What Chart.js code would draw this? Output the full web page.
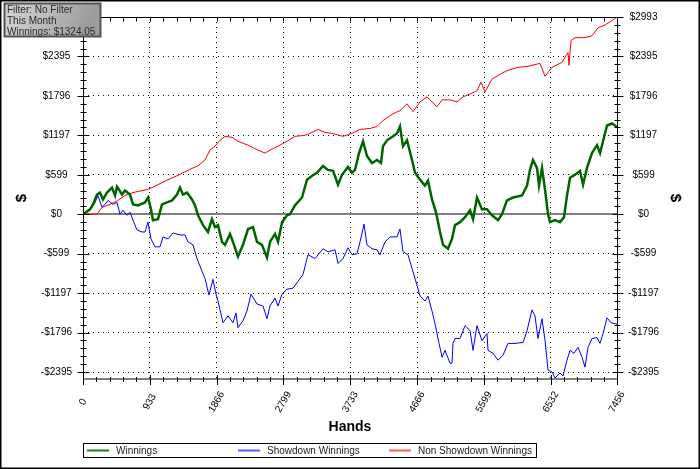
<!DOCTYPE html>
<html lang="en">
<head>
<meta charset="UTF-8">
<title>Winnings graph</title>
<script src="https://cdn.jsdelivr.net/npm/chart.js"></script>
<style>
  body { margin: 0; background: #fff; }
  canvas { display: block; }
</style>
</head>
<body>
<canvas id="winChart" width="700" height="469"></canvas>
<script>
// cumulative $ per hand
const winHands = [0, 98, 140, 195, 237, 279, 335, 405, 447, 475,
  545, 586, 656, 698, 768, 866, 908, 949, 977, 1047,
  1103, 1173, 1243, 1313, 1354, 1396, 1452, 1522, 1564, 1606,
  1676, 1745, 1801, 1843, 1885, 1941, 1983, 2053, 2094, 2164,
  2234, 2304, 2374, 2430, 2499, 2569, 2611, 2681, 2723, 2779,
  2848, 2890, 2960, 3058, 3128, 3198, 3267, 3351, 3421, 3491,
  3561, 3616, 3700, 3756, 3798, 3854, 3910, 3965, 4035, 4105,
  4161, 4189, 4245, 4329, 4384, 4426, 4468, 4524, 4594, 4636,
  4706, 4775, 4817, 4873, 4929, 4985, 5027, 5096, 5152, 5194,
  5264, 5334, 5404, 5446, 5501, 5571, 5641, 5711, 5795, 5850,
  5920, 6004, 6130, 6200, 6241, 6283, 6339, 6367, 6409, 6451,
  6493, 6521, 6591, 6660, 6716, 6758, 6800, 6870, 6940, 6982,
  7037, 7107, 7177, 7219, 7261, 7317, 7386, 7456];
const winVals = [0, 75, 150, 299, 329, 224, 329, 404, 284, 419,
  299, 359, 299, 150, 135, 180, 254, 75, -90, -75,
  150, 180, 210, 299, 404, 299, 329, 224, 135, -15,
  -165, -269, -75, -195, -165, -419, -464, -299, -419, -643,
  -464, -224, -195, -419, -464, -658, -419, -299, -419, -120,
  -15, 0, 135, 254, 524, 584, 629, 733, 673, 658,
  449, 599, 718, 629, 673, 928, 1107, 883, 778, 823,
  778, 1033, 1122, 1182, 1227, 1332, 1033, 1122, 823, 629,
  524, 434, 509, 224, 30, -269, -464, -524, -374, -165,
  -120, -45, 60, -75, 254, 75, 75, -15, -90, 0,
  210, 254, 284, 434, 673, 823, 703, 434, 703, 374,
  0, -120, -90, -120, -45, 284, 554, 599, 658, 449,
  703, 928, 1048, 928, 1107, 1347, 1377, 1324];

const sdHands = [0, 98, 168, 209, 265, 307, 349, 419, 475, 517,
  559, 614, 656, 698, 754, 824, 866, 908, 949, 1005,
  1075, 1117, 1187, 1257, 1354, 1424, 1466, 1536, 1592, 1662,
  1703, 1759, 1815, 1857, 1885, 1955, 2025, 2094, 2136, 2164,
  2234, 2290, 2346, 2430, 2513, 2569, 2611, 2681, 2723, 2779,
  2848, 2932, 3002, 3072, 3128, 3142, 3239, 3351, 3421, 3519,
  3561, 3630, 3700, 3756, 3826, 3868, 3924, 3965, 4035, 4105,
  4147, 4217, 4287, 4384, 4426, 4468, 4538, 4594, 4636, 4706,
  4775, 4817, 4873, 4915, 4971, 5013, 5055, 5124, 5152, 5166,
  5194, 5264, 5334, 5404, 5446, 5501, 5571, 5641, 5655, 5725,
  5795, 5864, 5934, 6032, 6144, 6200, 6269, 6311, 6353, 6409,
  6451, 6493, 6549, 6591, 6660, 6702, 6758, 6800, 6856, 6912,
  6968, 7009, 7051, 7107, 7177, 7219, 7261, 7317, 7372, 7456];
const sdVals = [0, 60, 180, 284, 105, 150, 210, 150, 180, 0,
  60, -15, 30, -90, -239, -269, -269, -120, -374, -494,
  -494, -344, -374, -284, -314, -314, -419, -464, -673, -868,
  -973, -1227, -988, -1212, -1317, -1646, -1541, -1646, -1497, -1721,
  -1616, -1467, -1212, -1362, -1392, -1586, -1392, -1272, -1392, -1212,
  -1137, -1122, -1018, -913, -673, -614, -673, -524, -569, -539,
  -748, -673, -509, -614, -599, -419, -150, -464, -524, -539,
  -614, -419, -344, -344, -224, -569, -614, -823, -973, -1242,
  -1317, -1242, -1467, -1661, -1960, -2170, -2065, -2260, -2260, -1960,
  -1886, -1886, -1691, -1766, -2065, -1691, -1916, -1811, -2065, -2110,
  -2215, -2140, -1960, -1960, -1945, -1766, -1452, -1541, -1886, -1586,
  -1916, -2364, -2394, -2484, -2409, -2454, -2215, -2065, -2110, -2020,
  -2170, -2320, -2020, -1886, -1871, -1960, -1811, -1571, -1646, -1669];

const nsdHands = [0, 195, 265, 377, 489, 586, 698, 894, 963, 1103,
  1187, 1313, 1396, 1536, 1606, 1703, 1773, 1843, 1913, 1983,
  2080, 2164, 2304, 2444, 2541, 2611, 2723, 2848, 2960, 3100,
  3198, 3281, 3379, 3477, 3630, 3756, 3868, 4007, 4105, 4189,
  4329, 4426, 4524, 4608, 4706, 4803, 4873, 4943, 5013, 5124,
  5222, 5306, 5404, 5501, 5557, 5613, 5711, 5850, 5934, 6074,
  6214, 6381, 6451, 6549, 6688, 6772, 6786, 6814, 6870, 7009,
  7107, 7191, 7289, 7400, 7456];
const nsdVals = [0, 0, 105, 150, 210, 284, 329, 374, 404, 479,
  524, 584, 629, 703, 733, 823, 973, 1033, 1122, 1182,
  1167, 1107, 1048, 973, 928, 973, 1033, 1107, 1182, 1197,
  1242, 1287, 1242, 1227, 1182, 1227, 1287, 1302, 1332, 1422,
  1526, 1571, 1676, 1556, 1706, 1781, 1706, 1631, 1736, 1736,
  1706, 1781, 1826, 1871, 2005, 1856, 2050, 2140, 2185, 2230,
  2245, 2290, 2095, 2230, 2305, 2454, 2260, 2634, 2679, 2679,
  2709, 2828, 2873, 2948, 2993];

const xTickValues = [0, 933, 1866, 2799, 3733, 4666, 5599, 6532, 7456];
const xTickLabels = ['0', '933', '1866', '2799', '3733', '4666', '5599', '6532', '7456'];
const yTickValues = [-2395, -1796, -1197, -599, 0, 599, 1197, 1796, 2395, 2993];
const yTickLabels = ['-$2395', '-$1796', '-$1197', '-$599', '$0', '$599', '$1197', '$1796', '$2395', '$2993'];
const seriesNames = ['Winnings', 'Showdown Winnings', 'Non Showdown Winnings'];
const seriesColors = ['#006400', '#0000ff', '#ff0000'];
const legendColors = ['#227722', '#5a5aff', '#ff5a5a'];
const infoLines = ['Filter: No Filter', 'This Month', 'Winnings: $1324.05'];

const FONT = 'Arial, "Liberation Sans", sans-serif';
Chart.defaults.font.family = FONT;
Chart.defaults.color = '#000';

function pts(xs, ys) {
  return xs.map((x, i) => ({ x: x, y: ys[i] }));
}

// minor tick positions: 5 steps between each pair of major values
function subTicks(majors) {
  const out = [];
  for (let i = 0; i < majors.length - 1; i++) {
    const a = majors[i], b = majors[i + 1];
    for (let k = 0; k < 5; k++) out.push({ v: a + (b - a) * k / 5, major: k === 0 });
  }
  out.push({ v: majors[majors.length - 1], major: true });
  return out;
}

const framePlugin = {
  id: 'frame',
  beforeDraw(chart) {
    const c = chart.ctx;
    c.save();
    c.fillStyle = '#fff';
    c.fillRect(0, 0, chart.width, chart.height);
    c.restore();
  },
  beforeDatasetsDraw(chart) {
    const c = chart.ctx, a = chart.chartArea;
    const y0 = Math.round(chart.scales.y.getPixelForValue(0));
    c.save();
    c.fillStyle = '#808080';
    c.fillRect(a.left, y0 - 1, a.right - a.left, 2);
    c.restore();
  },
  afterDatasetsDraw(chart) {
    const c = chart.ctx, a = chart.chartArea;
    const xs = chart.scales.x, ys = chart.scales.y;
    const L = Math.round(a.left) + 0.5, R = Math.round(a.right) + 0.5;
    const T = Math.round(a.top) + 0.5, B = Math.round(a.bottom);
    c.save();
    // bottom axis (grey, thick)
    c.fillStyle = '#808080';
    c.fillRect(a.left, B - 1, a.right - a.left + 1, 2);

    c.strokeStyle = '#000';
    c.lineWidth = 1;
    c.beginPath();
    c.moveTo(L, T); c.lineTo(R, T);
    c.moveTo(L, T); c.lineTo(L, B + 4);
    c.moveTo(R, T); c.lineTo(R, B + 4);

    // y ticks crossing both vertical axes
    const yMinor = [];
    for (let k = -20; k <= 25; k++) yMinor.push({ v: k * 598.6 / 5, major: k % 5 === 0 });
    yMinor.forEach(t => {
      const py = Math.round(ys.getPixelForValue(t.v)) + 0.5;
      if (t.major) {
        c.moveTo(L - 6, py); c.lineTo(L + 6, py);
        c.moveTo(R - 5, py); c.lineTo(R + 6, py);
      } else {
        c.moveTo(L - 3, py); c.lineTo(L + 3, py);
        c.moveTo(R - 3, py); c.lineTo(R + 3, py);
      }
    });
    // x ticks top and bottom
    subTicks(xTickValues).forEach(t => {
      const px = Math.round(xs.getPixelForValue(t.v)) + 0.5;
      c.moveTo(px, T); c.lineTo(px, T + 4);
      if (t.major) { c.moveTo(px, B - 4); c.lineTo(px, B + 6); }
      else { c.moveTo(px, B - 2); c.lineTo(px, B + 3); }
    });
    c.stroke();

    // x tick labels, rotated and centred under the tick
    c.font = '10px ' + FONT;
    c.fillStyle = '#000';
    c.textAlign = 'center';
    c.textBaseline = 'middle';
    xTickValues.forEach((v, i) => {
      const px = xs.getPixelForValue(v);
      c.save();
      c.translate(px, 402);
      c.rotate(-Math.PI / 3);
      c.fillText(xTickLabels[i], 0, 0);
      c.restore();
    });
    c.restore();
  },
  afterDraw(chart) {
    const c = chart.ctx;
    c.save();
    // legend box
    c.strokeStyle = '#000';
    c.lineWidth = 1;
    c.strokeRect(83.5, 443.5, 453, 14);
    const itemX = [87, 238, 389];
    c.font = '10px ' + FONT;
    c.textBaseline = 'middle';
    c.textAlign = 'left';
    seriesNames.forEach((name, i) => {
      c.strokeStyle = legendColors[i];
      c.lineWidth = 2;
      c.beginPath();
      c.moveTo(itemX[i], 450.5); c.lineTo(itemX[i] + 22, 450.5);
      c.stroke();
      c.fillStyle = '#222';
      c.fillText(name, itemX[i] + 29, 451);
    });

    // info box top-left
    const g = c.createLinearGradient(4, 3, 80, 40);
    g.addColorStop(0, '#d6d6d6');
    g.addColorStop(0.5, '#bdbdbd');
    g.addColorStop(1, '#9c9c9c');
    c.fillStyle = g;
    c.fillRect(4, 3, 97, 34);
    c.strokeStyle = '#555';
    c.strokeRect(4.5, 3.5, 96, 33);
    c.fillStyle = '#2a2a2a';
    infoLines.forEach((t, i) => c.fillText(t, 7, 10.5 + i * 11));

    // outer frame
    c.strokeStyle = '#000';
    c.strokeRect(0.5, 0.5, chart.width - 1, chart.height - 1);
    c.restore();
  }
};

const yScaleBase = {
  type: 'linear',
  min: -2500,
  max: 2993,
  afterBuildTicks: s => { s.ticks = yTickValues.map(v => ({ value: v })); },
  afterFit: s => { s.width = 83; },
  ticks: {
    callback: (v, i) => yTickLabels[i],
    font: { size: 10 },
    color: '#000',
    padding: 11,
    crossAlign: 'center',
    autoSkip: false
  }
};

new Chart(document.getElementById('winChart'), {
  type: 'line',
  data: {
    datasets: seriesNames.map((name, i) => ({
      label: name,
      data: [pts(winHands, winVals), pts(sdHands, sdVals), pts(nsdHands, nsdVals)][i],
      borderColor: seriesColors[i],
      borderWidth: i === 0 ? 2.5 : 1,
      pointRadius: 0,
      tension: 0,
      fill: false
    }))
  },
  options: {
    responsive: false,
    animation: false,
    layout: { padding: { top: 12, bottom: 30, left: 0, right: 0 } },
    plugins: { legend: { display: false }, tooltip: { enabled: false } },
    scales: {
      x: {
        type: 'linear',
        min: 0,
        max: 7456,
        afterBuildTicks: s => { s.ticks = xTickValues.map(v => ({ value: v })); },
        afterFit: s => { s.height = 60; },
        ticks: { display: false },
        grid: { color: '#000', lineWidth: 1, drawTicks: false },
        border: { display: false, dash: [1, 4] },
        title: { display: true, text: 'Hands', font: { size: 14, weight: 'bold' }, color: '#000', padding: { top: 0, bottom: 3 } }
      },
      y: Object.assign({}, yScaleBase, {
        position: 'left',
        grid: {
          color: ctx => (ctx.tick && (ctx.tick.value === 0 || ctx.tick.value === 2993)) ? 'rgba(0,0,0,0)' : '#000',
          lineWidth: 1,
          drawTicks: false
        },
        border: { display: false, dash: [1, 4] },
        title: { display: true, text: '$', font: { size: 15, weight: 'bold' }, color: '#000', padding: { top: 13, bottom: 0 } }
      }),
      y2: Object.assign({}, yScaleBase, {
        position: 'right',
        grid: { drawOnChartArea: false, drawTicks: false },
        border: { display: false },
        title: { display: true, text: '$', font: { size: 15, weight: 'bold' }, color: '#000', padding: { top: 16, bottom: 0 } }
      })
    }
  },
  plugins: [framePlugin]
});
</script>
</body>
</html>
